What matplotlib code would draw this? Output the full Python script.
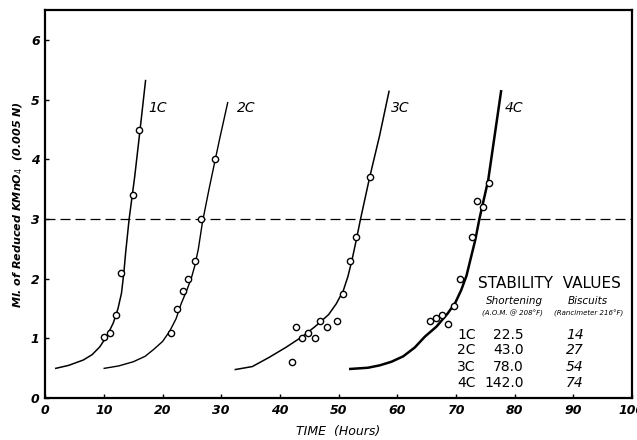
import numpy as np
import matplotlib
matplotlib.use("Agg")
import matplotlib.pyplot as plt

# measured points (time in hours, ml of reduced KMnO4)
x_1c = [10.0, 11.0, 12.0, 13.0, 15.0, 15.9]
y_1c = [1.03, 1.1, 1.4, 2.1, 3.4, 4.5]
x_2c = [21.4, 22.4, 23.4, 24.4, 25.5, 26.6, 29.0]
y_2c = [1.1, 1.5, 1.8, 2.0, 2.3, 3.0, 4.0]
x_3c = [42.0, 42.7, 43.8, 44.8, 45.9, 46.8, 48.0, 49.8, 50.8, 51.9, 52.9, 55.3]
y_3c = [0.6, 1.2, 1.0, 1.1, 1.0, 1.3, 1.2, 1.3, 1.75, 2.3, 2.7, 3.7]
x_4c = [65.6, 66.6, 67.7, 68.6, 69.7, 70.7, 72.8, 73.6, 74.7, 75.7]
y_4c = [1.3, 1.35, 1.4, 1.25, 1.55, 2.0, 2.7, 3.3, 3.2, 3.6]

# fitted curves as drawn on the original
cx_1c = [1.8, 4.0, 6.5, 8.0, 9.3, 10.5, 11.6, 12.4, 13.0, 13.4, 13.7, 14.3, 15.25, 16.1, 17.1]
cy_1c = [0.5, 0.55, 0.64, 0.73, 0.86, 1.04, 1.26, 1.5, 1.76, 2.1, 2.43, 3.0, 3.71, 4.44, 5.32]
cx_2c = [10.05, 12.5, 15.0, 17.0, 18.4, 20.0, 21.2, 22.3, 23.2, 24.1, 24.9, 25.5, 26.1, 26.8, 28.0, 29.7, 31.1]
cy_2c = [0.5, 0.54, 0.61, 0.7, 0.81, 0.95, 1.12, 1.33, 1.59, 1.8, 2.01, 2.22, 2.5, 2.95, 3.54, 4.33, 4.95]
cx_3c = [32.4, 35.3, 38.1, 41.0, 43.8, 46.0, 48.3, 49.6, 50.8, 51.6, 52.3, 53.0, 53.7, 55.3, 57.0, 58.6]
cy_3c = [0.48, 0.53, 0.68, 0.85, 1.03, 1.2, 1.4, 1.58, 1.8, 2.04, 2.32, 2.64, 2.98, 3.7, 4.4, 5.14]
cx_4c = [52.0, 55.0, 57.0, 59.0, 61.0, 63.0, 64.7, 66.7, 68.6, 69.9, 70.9, 71.8, 72.6, 73.3, 74.0, 75.5, 77.7]
cy_4c = [0.49, 0.51, 0.55, 0.61, 0.7, 0.85, 1.03, 1.2, 1.42, 1.6, 1.81, 2.05, 2.37, 2.65, 3.0, 3.65, 5.14]

curve_names = ["1C", "2C", "3C", "4C"]
label_x = [17.6, 32.6, 58.9, 78.4]
shortening = ["22.5", "43.0", "78.0", "142.0"]
biscuits = ["14", "27", "54", "74"]

fig = plt.figure(figsize=(6.37, 4.4), dpi=100)
ax = fig.add_axes([0.071, 0.095, 0.921, 0.882])

pts = [(x_1c, y_1c), (x_2c, y_2c), (x_3c, y_3c), (x_4c, y_4c)]
crv = [(cx_1c, cy_1c), (cx_2c, cy_2c), (cx_3c, cy_3c), (cx_4c, cy_4c)]
widths = [1.1, 1.0, 1.1, 1.8]
for (px, py), (qx, qy), lw in zip(pts, crv, widths):
    ax.plot(qx, qy, color="black", lw=lw, zorder=2, solid_joinstyle="round")
    ax.plot(px, py, "o", ms=4.5, mfc="white", mec="black", mew=1.0, zorder=3)

for name, lx in zip(curve_names, label_x):
    ax.text(lx, 4.86, name, fontsize=10, style="italic", va="center", ha="left")

ax.axhline(3.0, color="black", lw=0.9, ls=(0, (8, 4)), zorder=1)

# stability values table
narrow = ["DejaVu Sans Condensed", "DejaVu Sans"]
ax.text(86.0, 1.92, "STABILITY  VALUES", fontsize=11, ha="center", va="center")
ax.text(80.0, 1.62, "Shortening", fontsize=7.5, style="italic", ha="center", va="center")
ax.text(79.7, 1.42, "(A.O.M. @ 208°F)", fontsize=5, style="italic",
        family=narrow, ha="center", va="center")
ax.text(92.5, 1.62, "Biscuits", fontsize=7.5, style="italic", ha="center", va="center")
ax.text(92.6, 1.42, "(Rancimeter 216°F)", fontsize=5, style="italic",
        family=narrow, ha="center", va="center")
row_y = [1.06, 0.8, 0.53, 0.26]
for name, s, b, ry in zip(curve_names, shortening, biscuits, row_y):
    ax.text(71.8, ry, name, fontsize=10, ha="center", va="center")
    ax.text(81.6, ry, s, fontsize=10, ha="right", va="center")
    ax.text(90.3, ry, b, fontsize=10, style="italic", ha="center", va="center")

ax.set_xlim(0, 100)
ax.set_ylim(0, 6.5)
ax.set_xticks(np.arange(0, 101, 10))
ax.set_yticks(np.arange(0, 7, 1))
ax.tick_params(direction="in", length=3, width=1, labelsize=9, pad=4)
for lab in ax.get_xticklabels() + ax.get_yticklabels():
    lab.set_style("italic")
    lab.set_weight("bold")
for sp in ax.spines.values():
    sp.set_linewidth(1.6)

ax.set_xlabel("TIME  (Hours)", fontsize=9, style="italic", labelpad=6)
ax.set_ylabel("Ml. of Reduced KMnO$_4$  (0.005 N)", fontsize=8, style="italic",
              weight="bold", labelpad=4)

fig.savefig("out.png", dpi=100)
